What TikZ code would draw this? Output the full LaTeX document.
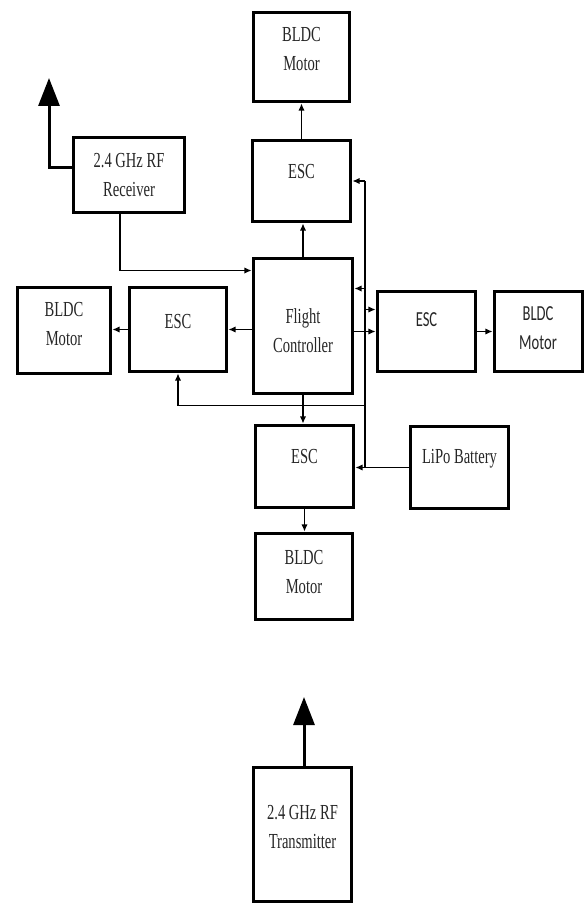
\documentclass[tikz,border=0pt]{standalone}
\usepackage{fontspec}
\setmainfont{Liberation Serif}[FakeStretch=0.68]
\newfontfamily\calfont{Carlito}[FakeStretch=0.68]
\usetikzlibrary{arrows.meta}

\tikzset{
  blk/.style={draw, line width=0.06cm, minimum width=1.98cm, inner sep=0pt},
  lbl/.style={align=center, inner sep=0pt, text=black!85,
    font=\fontsize{12.2}{16.5}\selectfont},
  lblc/.style={lbl, font=\calfont\fontsize{12.2}{16.5}\selectfont},
  conn/.style={line width=0.7pt, -{Latex[length=4pt,width=3.6pt]}},
  wire/.style={line width=0.7pt},
  ant/.style={line width=0.06cm, -{Triangle[length=0.56cm,width=0.42cm]}}
}

\begin{document}
\begin{tikzpicture}[x=0.02cm, y=-0.02cm]
    \useasboundingbox (0,0) rectangle (584,905);

    % blocks
    \node[blk, minimum width=1.94cm, minimum height=1.80cm] (mtop) at (301.5,57) {};
    \node[blk, minimum height=1.64cm] (escT) at (301.5,181) {};
    \node[blk, minimum width=2.24cm, minimum height=1.52cm] (rx) at (129,175) {};
    \node[blk, minimum width=2.00cm, minimum height=2.72cm] (fc) at (303,326) {};
    \node[blk, minimum width=1.96cm, minimum height=1.70cm] (escL) at (178,329.5) {};
    \node[blk, minimum width=1.88cm, minimum height=1.74cm] (mL) at (64,330.5) {};
    \node[blk, minimum height=1.62cm] (escR) at (426.5,331.5) {};
    \node[blk, minimum width=1.76cm, minimum height=1.62cm] (mR) at (538,331.5) {};
    \node[blk, minimum height=1.66cm] (escB) at (304.5,466.5) {};
    \node[blk, minimum height=1.66cm] (bat) at (459.5,467.5) {};
    \node[blk, minimum width=1.96cm, minimum height=1.74cm] (mB) at (304,576.5) {};
    \node[blk, minimum height=2.70cm] (tx) at (302.5,834.5) {};

    % labels
    \node[lbl] (mtopT) at (301.5,49) {BLDC\\Motor};
    \node[lbl] (escTT) at (301.5,172) {ESC};
    \node[lbl] (rxT) at (129,175) {2.4 GHz RF\\Receiver};
    \node[lbl] (fcT) at (303,331) {Flight\\Controller};
    \node[lbl] (escLT) at (178,322) {ESC};
    \node[lbl] (mLT) at (64,324.5) {BLDC\\Motor};
    \node[lblc] (escRT) at (426.5,320) {ESC};
    \node[lblc] (mRT) at (538,328.5) {BLDC\\Motor};
    \node[lbl] (escBT) at (304.5,457) {ESC};
    \node[lbl] (batT) at (459.5,459) {LiPo Battery};
    \node[lbl] (mBT) at (304,572) {BLDC\\Motor};
    \node[lbl] (txT) at (302.5,827) {2.4 GHz RF\\Transmitter};

    % helper points
    \coordinate (bus) at (365,467.5);
    \coordinate (rxin) at ([yshift=-0.28cm]fc.north west);
    \coordinate (fcpwr) at ([yshift=-0.64cm]fc.north east);
    \coordinate (escRpwr) at ([yshift=-0.4cm]escR.north west);
    \coordinate (loop) at ([yshift=-0.2cm]fc.south);
    \coordinate (rxant) at (49,78);
    \coordinate (txant) at (304,697);

    % signal paths
    \draw[conn] (fc.north) -- (fc.north |- escT.south);
    \draw[conn] (escT.north) -- (escT.north |- mtop.south);
    \draw[conn] (fc.south) -- (fc.south |- escB.north);
    \draw[conn] (escB.south) -- (escB.south |- mB.north);
    \draw[conn] (fc.west |- escL.east) -- (escL.east);
    \draw[conn] (escL.west) -- (escL.west -| mL.east);
    \draw[conn] (fc.east |- escR.west) -- (escR.west);
    \draw[conn] (escR.east) -- (escR.east -| mR.west);
    \draw[conn] ([xshift=-0.18cm]rx.south) |- (rxin);

    % power bus
    \draw[conn] (bat.west) -- (bat.west -| escB.east);
    \draw[wire] (escT.east -| bus) -- (bus);
    \draw[conn] (escT.east -| bus) -- (escT.east);
    \draw[conn] (bus |- fcpwr) -- (fcpwr);
    \draw[conn] (bus |- escRpwr) -- (escRpwr);
    \draw[conn] (bus |- loop) -| (escL.south);

    % antennas
    \draw[ant] ([yshift=0.14cm]rx.west) -| (rxant);
    \draw[ant] (tx.north -| txant) -- (txant);
\end{tikzpicture}
\end{document}
